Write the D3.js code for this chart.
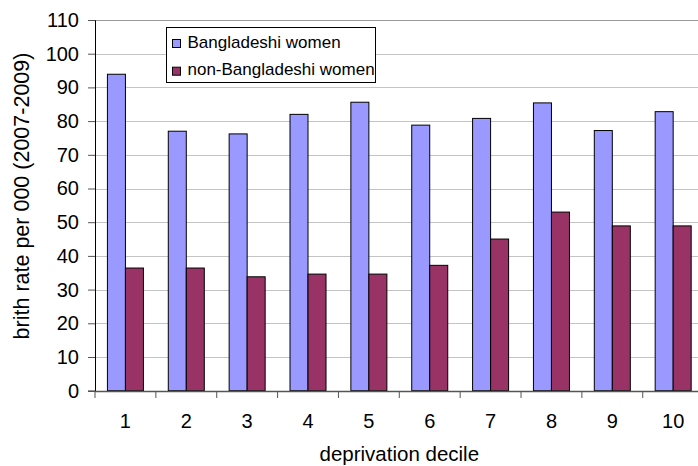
<!DOCTYPE html>
<html>
<head>
<meta charset="utf-8">
<script src="https://cdn.jsdelivr.net/npm/d3@7"></script>
<style>
  html, body { margin: 0; padding: 0; background: #fff; }
  svg { display: block; font-family: "Liberation Sans", Arial, sans-serif; }
</style>
</head>
<body>
<svg id="chart" width="698" height="466"></svg>
<script>
// Birth rate per 000 (2007-2009) by deprivation decile
const deciles = ["1", "2", "3", "4", "5", "6", "7", "8", "9", "10"];
const seriesNames = ["Bangladeshi women", "non-Bangladeshi women"];
const bangladeshi = [93.9, 77.0, 76.2, 82.0, 85.6, 78.8, 80.8, 85.4, 77.2, 82.8];
const nonBangladeshi = [36.4, 36.4, 33.8, 34.6, 34.6, 37.2, 45.0, 53.0, 48.9, 48.9];
const yTicks = [0, 10, 20, 30, 40, 50, 60, 70, 80, 90, 100, 110];
const colors = ["#9999ff", "#993366"];

const values = [bangladeshi, nonBangladeshi];
const rows = deciles.map((d, i) => ({
  decile: d,
  vals: seriesNames.map((s, k) => ({ series: s, value: values[k][i] }))
}));

const svg = d3.select("#chart");
const plot = { left: 95, right: 703.6, top: 20, bottom: 390.7 };

const x0 = d3.scaleBand().domain(deciles).range([plot.left, plot.right]).padding(0);
const x1 = d3.scaleBand().domain(seriesNames).range([0, x0.bandwidth()])
  .paddingInner(0).paddingOuter(0.69);
const y = d3.scaleLinear().domain([0, 110]).range([plot.bottom, plot.top]);
const color = d3.scaleOrdinal().domain(seriesNames).range(colors);

// gridlines
svg.append("g")
  .selectAll("line")
  .data(yTicks.filter(t => t > 0))
  .join("line")
  .attr("x1", plot.left).attr("x2", plot.right)
  .attr("y1", d => Math.round(y(d)) + 0.5).attr("y2", d => Math.round(y(d)) + 0.5)
  .attr("stroke", d => d === 110 ? "#999999" : "#c4c4c4")
  .attr("stroke-width", 1);

// bars
svg.append("g")
  .selectAll("g")
  .data(rows)
  .join("g")
  .attr("transform", d => `translate(${x0(d.decile)},0)`)
  .selectAll("rect")
  .data(d => d.vals)
  .join("rect")
  .attr("x", d => x1(d.series))
  .attr("y", d => y(d.value))
  .attr("width", x1.bandwidth())
  .attr("height", d => y(0) - y(d.value))
  .attr("fill", d => color(d.series))
  .attr("stroke", "#000")
  .attr("stroke-width", 1);

// y axis
const yAxis = svg.append("g")
  .attr("transform", `translate(${plot.left},0)`)
  .call(d3.axisLeft(y).tickValues(yTicks).tickSize(7).tickPadding(9).tickFormat(d3.format("d")));
yAxis.select(".domain").attr("stroke", "#000");
yAxis.selectAll(".tick line").attr("stroke", "#555");
yAxis.selectAll("text")
  .attr("font-size", 20)
  .attr("font-family", "Liberation Sans, Arial, sans-serif")
  .attr("fill", "#000");

// x axis: ticks at category boundaries
const xAxisG = svg.append("g").attr("transform", `translate(0,${Math.round(plot.bottom) + 0.5})`);
xAxisG.append("line")
  .attr("x1", plot.left).attr("x2", plot.right)
  .attr("stroke", "#555").attr("stroke-width", 1.5);
xAxisG.selectAll(".bound")
  .data(deciles)
  .join("line")
  .attr("class", "bound")
  .attr("x1", d => x0(d)).attr("x2", d => x0(d))
  .attr("y1", 0).attr("y2", 6.5)
  .attr("stroke", "#555");
xAxisG.selectAll(".lbl")
  .data(deciles)
  .join("text")
  .attr("class", "lbl")
  .attr("x", d => x0(d) + x0.bandwidth() / 2)
  .attr("y", 36.5)
  .attr("text-anchor", "middle")
  .attr("font-size", 20)
  .attr("fill", "#000")
  .text(d => d);

// axis titles
svg.append("text")
  .attr("x", (plot.left + plot.right) / 2)
  .attr("y", 461)
  .attr("text-anchor", "middle")
  .attr("font-size", 20.5)
  .attr("fill", "#000")
  .text("deprivation decile");

svg.append("text")
  .attr("transform", "translate(28.5,196) rotate(-90)")
  .attr("text-anchor", "middle")
  .attr("font-size", 21.5)
  .attr("fill", "#000")
  .text("brith rate per 000 (2007-2009)");

// legend
const legend = svg.append("g");
legend.append("rect")
  .attr("x", 166.5).attr("y", 27.5)
  .attr("width", 209).attr("height", 55)
  .attr("fill", "#fff").attr("stroke", "#000").attr("stroke-width", 1);
const items = legend.selectAll(".item")
  .data(seriesNames)
  .join("g")
  .attr("class", "item")
  .attr("transform", (d, i) => `translate(0,${i * 27.7})`);
items.append("rect")
  .attr("x", 172.5).attr("y", 39.5)
  .attr("width", 8).attr("height", 8)
  .attr("fill", d => color(d))
  .attr("stroke", "#000").attr("stroke-width", 1);
items.append("text")
  .attr("x", 187.5).attr("y", 47.5)
  .attr("font-size", 17)
  .attr("fill", "#000")
  .text(d => d);
</script>
</body>
</html>
